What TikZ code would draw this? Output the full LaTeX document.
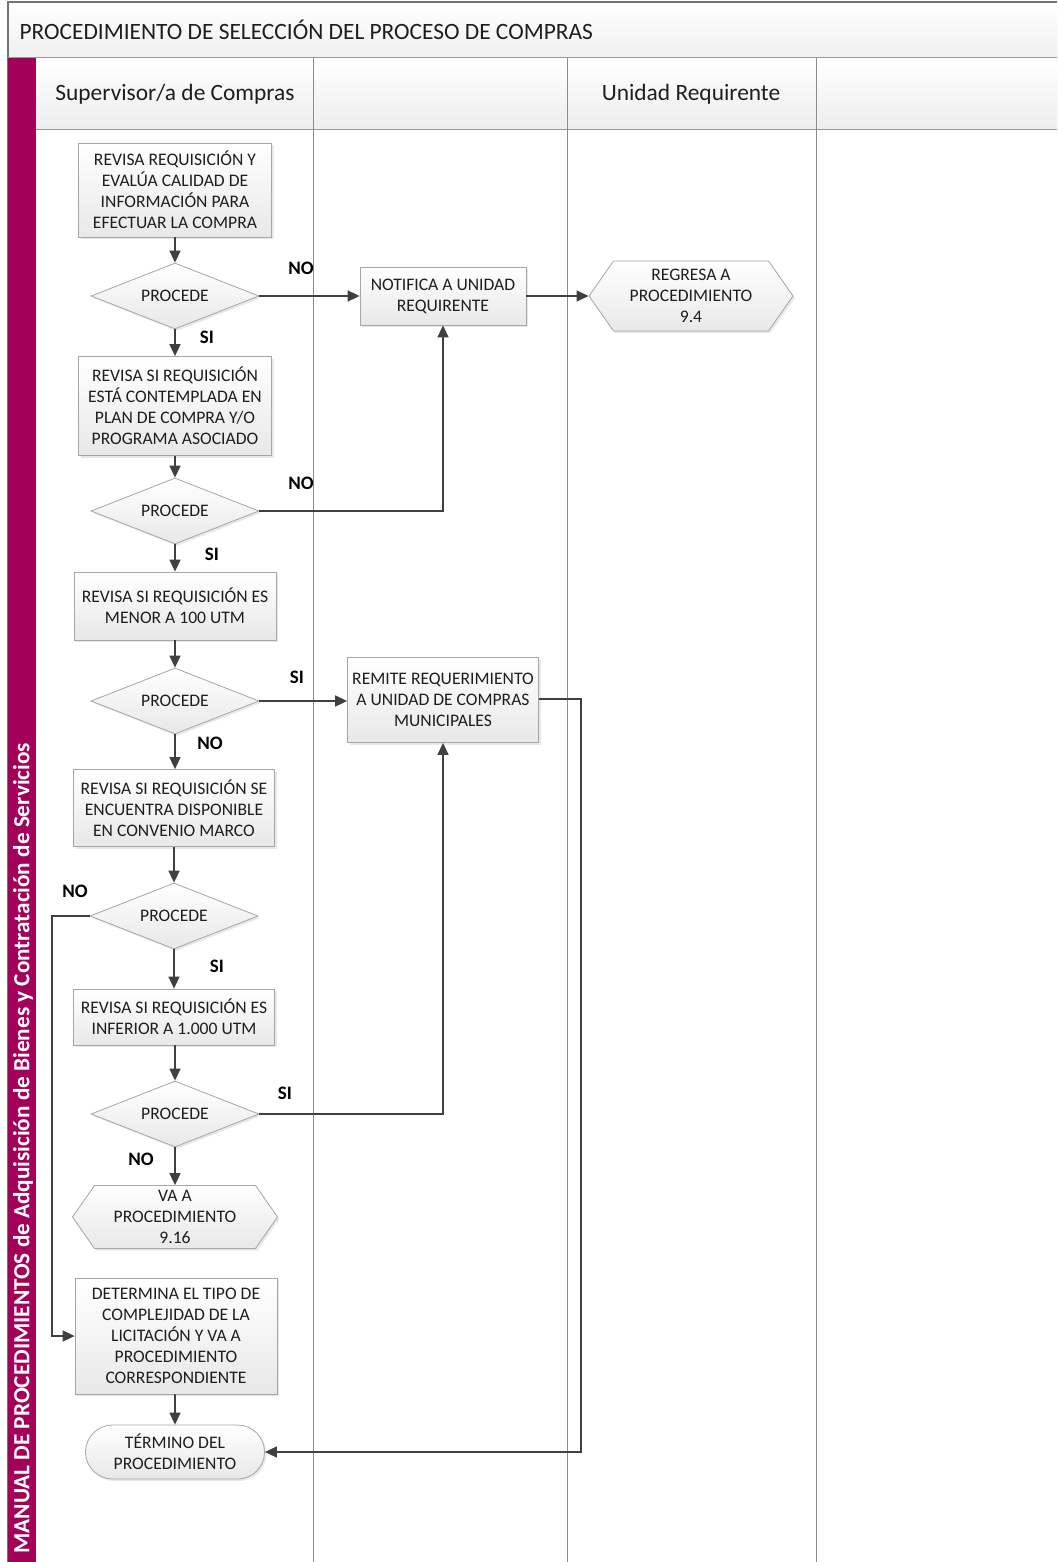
\documentclass[tikz,border=0pt]{standalone}
\usepackage{fontspec}
\setmainfont{Carlito}
\usetikzlibrary{shapes.geometric,shapes.symbols,shapes.misc,shadows,arrows.meta}
\definecolor{band}{HTML}{A3005A}
\definecolor{ink}{HTML}{1E1E1E}
\definecolor{wire}{HTML}{404040}
\definecolor{rim}{HTML}{A6A6A6}
\definecolor{lane}{HTML}{8C8C8C}
\begin{document}
\begin{tikzpicture}[x=1pt,y=-1pt,
  every node/.style={text=ink},
  base/.style={draw=rim, line width=0.8pt, top color=white, bottom color=black!9,
    drop shadow={opacity=0.18, shadow xshift=2pt, shadow yshift=-2pt},
    font=\fontsize{17.6}{21}\selectfont, align=center, inner sep=0pt},
  proc/.style={base, rectangle},
  dec/.style={base, diamond, aspect=2.55, minimum width=168pt, minimum height=66pt},
  jump/.style={base, signal, signal to=west and east, signal pointer angle=110},
  term/.style={base, rounded rectangle},
  flow/.style={draw=wire, line width=1.6pt, -{Triangle[length=12pt,width=11pt]}},
  tag/.style={font=\fontsize{19}{22}\selectfont\bfseries, text=black},
]
\useasboundingbox (0,0) rectangle (1057,1562);

% title bar and lane headers
\fill[white] (0,0) rectangle (1057,1562);
\shade[top color=white, bottom color=black!6] (8,2) rectangle (1057,58);
\shade[top color=white, bottom color=black!7] (36,58) rectangle (1057,130);
\draw[black!55, line width=1.2pt] (1057,2) -- (8,2) -- (8,1562);
\draw[black!40, line width=1pt] (8,58) -- (1057,58);
\draw[black!40, line width=1pt] (36,130) -- (1057,130);
\node[anchor=west, font=\fontsize{23.4}{26}\selectfont] (title) at (16,30)
  {PROCEDIMIENTO DE SELECCIÓN DEL PROCESO DE COMPRAS};

\fill[band] (8,58) rectangle (36,1562);
\node[rotate=90, anchor=west, text=white, font=\fontsize{23.2}{26}\selectfont\bfseries]
  (manual) at (23,1557)
  {MANUAL DE PROCEDIMIENTOS de Adquisición de Bienes y Contratación de Servicios};

\foreach \lx in {313,567,816} \draw[lane, line width=1pt] (\lx,58) -- (\lx,1562);
\node[font=\fontsize{23.4}{26}\selectfont] (h1) at (175,94) {Supervisor/a de Compras};
\node[font=\fontsize{23.4}{26}\selectfont] (h3) at (691,94) {Unidad Requirente};

% process nodes
\node[proc, minimum width=193pt, minimum height=94pt] (b1) at (175,190)
  {REVISA REQUISICIÓN Y\\EVALÚA CALIDAD DE\\INFORMACIÓN PARA\\EFECTUAR LA COMPRA};
\node[dec] (d1) at (175,296) {PROCEDE};
\node[proc, minimum width=166pt, minimum height=58pt] (nt) at (443,296)
  {NOTIFICA A UNIDAD\\REQUIRENTE};
\node[jump, minimum width=204pt, minimum height=70pt] (rg) at (691,296)
  {REGRESA A\\PROCEDIMIENTO\\9.4};
\node[proc, minimum width=193pt, minimum height=99pt] (b2) at (175,406)
  {REVISA SI REQUISICIÓN\\ESTÁ CONTEMPLADA EN\\PLAN DE COMPRA Y/O\\PROGRAMA ASOCIADO};
\node[dec] (d2) at (175,511) {PROCEDE};
\node[proc, minimum width=202pt, minimum height=68pt] (b3) at (175,606)
  {REVISA SI REQUISICIÓN ES\\MENOR A 100 UTM};
\node[dec] (d3) at (175,701) {PROCEDE};
\node[proc, minimum width=191pt, minimum height=85pt] (rm) at (443,700)
  {REMITE REQUERIMIENTO\\A UNIDAD DE COMPRAS\\MUNICIPALES};
\node[proc, minimum width=201pt, minimum height=77pt] (b4) at (174,808)
  {REVISA SI REQUISICIÓN SE\\ENCUENTRA DISPONIBLE\\EN CONVENIO MARCO};
\node[dec] (d4) at (174,916) {PROCEDE};
\node[proc, minimum width=201pt, minimum height=56pt] (b5) at (174,1017)
  {REVISA SI REQUISICIÓN ES\\INFERIOR A 1.000 UTM};
\node[dec] (d5) at (175,1114) {PROCEDE};
\node[jump, minimum width=205pt, minimum height=63pt] (va) at (175,1217)
  {VA A\\PROCEDIMIENTO\\9.16};
\node[proc, minimum width=202pt, minimum height=116pt] (b6) at (176,1336)
  {DETERMINA EL TIPO DE\\COMPLEJIDAD DE LA\\LICITACIÓN Y VA A\\PROCEDIMIENTO\\CORRESPONDIENTE};
\node[term, minimum width=179pt, minimum height=54pt] (tm) at (175,1452)
  {TÉRMINO DEL\\PROCEDIMIENTO};

% junction points
\coordinate (j2) at (nt.south |- d2.east);
\coordinate (j5) at (rm.south |- d5.east);
\coordinate (ja) at (581,699);
\coordinate (jb) at (581,1452);
\coordinate (jc) at (52,916);
\coordinate (jd) at (52,1336);

% connectors
\draw[flow] (b1) -- (d1);
\draw[flow] (d1.east) -- (d1.east -| nt.west);
\draw[flow] (d1.south) -- (d1.south |- b2.north);
\draw[flow] (nt.east) -- (rg.west);
\draw[flow] (b2) -- (d2);
\draw[flow] (d2.east) -- (j2) -- (nt.south);
\draw[flow] (d2.south) -- (d2.south |- b3.north);
\draw[flow] (b3) -- (d3);
\draw[flow] (d3.east) -- (d3.east -| rm.west);
\draw[flow] (d3.south) -- (d3.south |- b4.north);
\draw[flow] (rm.east |- ja) -- (ja) -- (jb) -- (tm.east);
\draw[flow] (b4) -- (d4);
\draw[flow] (d4.west) -- (jc) -- (jd) -- (b6.west);
\draw[flow] (d4.south) -- (d4.south |- b5.north);
\draw[flow] (b5) -- (b5.south -| d5.north) -- (d5.north);
\draw[flow] (d5.east) -- (j5) -- (rm.south);
\draw[flow] (d5.south) -- (va.north);
\draw[flow] (b6) -- (b6.south -| tm.north) -- (tm.north);

% branch labels
\node[tag] (l1) at (301,268) {NO};
\node[tag] (l2) at (207,337) {SI};
\node[tag] (l3) at (301,483) {NO};
\node[tag] (l4) at (212,554) {SI};
\node[tag] (l5) at (297,677) {SI};
\node[tag] (l6) at (210,743) {NO};
\node[tag] (l7) at (75,891) {NO};
\node[tag] (l8) at (217,966) {SI};
\node[tag] (l9) at (285,1093) {SI};
\node[tag] (l10) at (141,1159) {NO};
\end{tikzpicture}
\end{document}
